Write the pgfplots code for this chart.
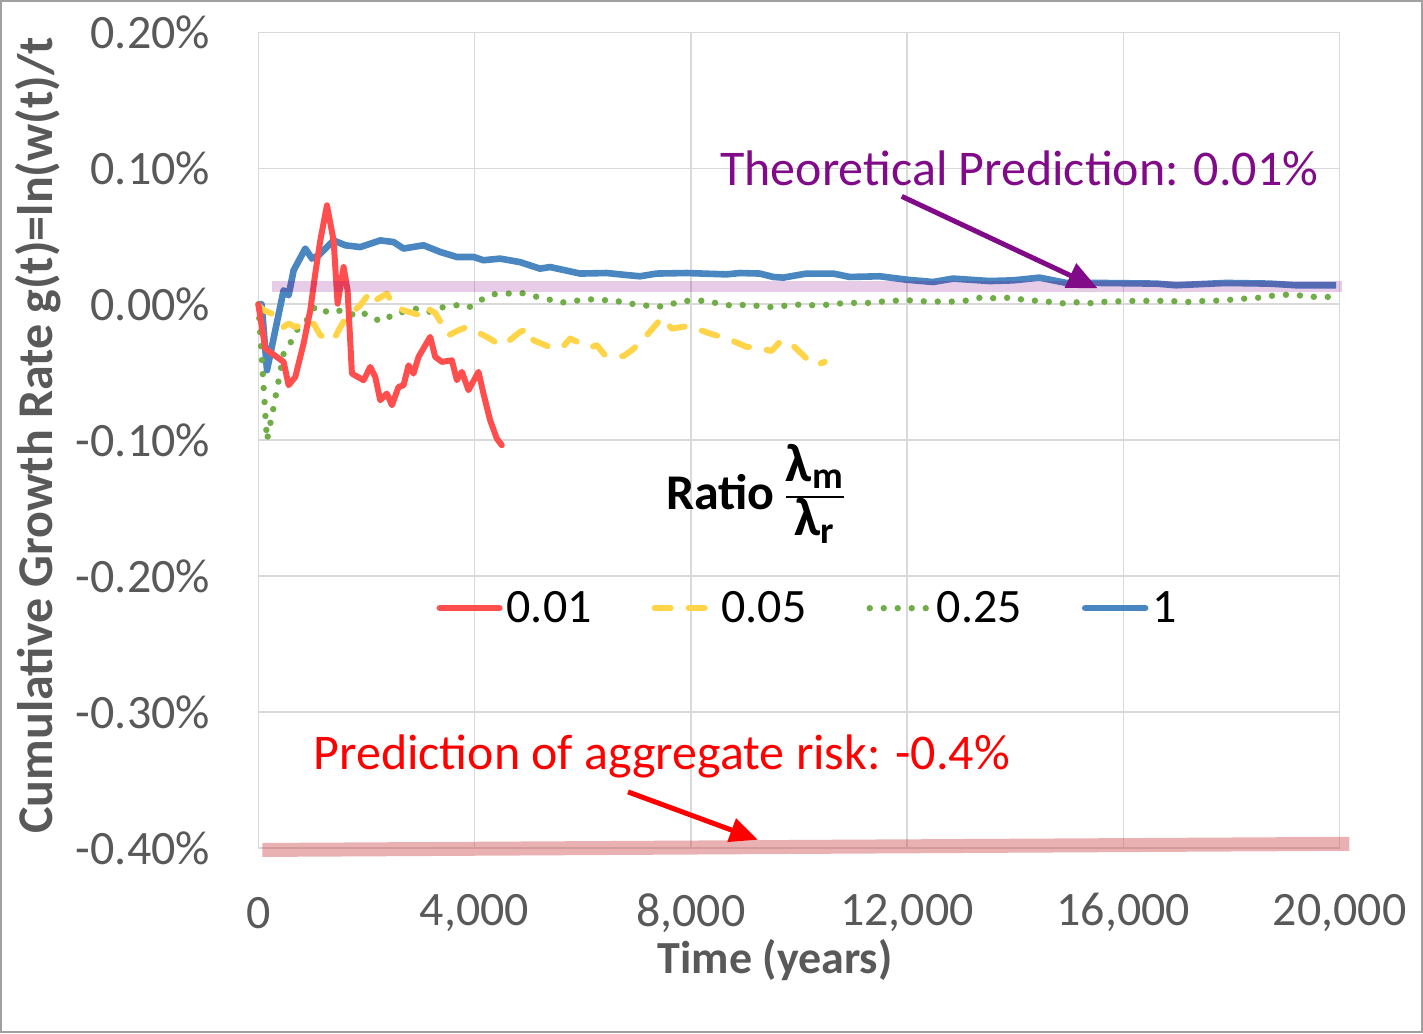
\documentclass[border=0pt]{standalone}
\usepackage{pgfplots}
\pgfplotsset{compat=1.18}
\usetikzlibrary{arrows.meta}
\usepackage{fontspec}
\setmainfont{Carlito}
\definecolor{tickc}{RGB}{89,89,89}
\definecolor{gridc}{RGB}{217,217,217}
\definecolor{framec}{RGB}{160,160,160}
\definecolor{sred}{RGB}{255,78,78}
\definecolor{syel}{RGB}{255,212,72}
\definecolor{sgrn}{RGB}{112,173,71}
\definecolor{sblu}{RGB}{74,134,192}
\definecolor{ppl}{RGB}{128,10,135}
\definecolor{band}{RGB}{128,0,128}
\definecolor{rband}{RGB}{200,60,60}
\begin{document}
\begin{tikzpicture}
\begin{axis}[
  scale only axis, width=541pt, height=408pt,
  xmin=0, xmax=20000, ymin=-0.4, ymax=0.2,
  scaled x ticks=false, scaled y ticks=false,
  xtick={0,4000,8000,12000,16000,20000},
  xticklabels={0,{4,000},{8,000},{12,000},{16,000},{20,000}},
  ytick={-0.4,-0.3,-0.2,-0.1,0,0.1,0.2},
  yticklabels={{-0.40\%},{-0.30\%},{-0.20\%},{-0.10\%},{0.00\%},{0.10\%},{0.20\%}},
  grid=major,
  major grid style={draw=gridc, line width=0.8pt},
  axis line style={draw=gridc, line width=0.8pt},
  major tick length=0pt,
  ticklabel style={font=\fontsize{24}{24}\selectfont, text=tickc, inner sep=0pt},
  xticklabel style={anchor=center, yshift=-32.5pt},
  yticklabel style={anchor=east, xshift=-24pt},
  xlabel={Time (years)},
  xlabel style={font=\bfseries\fontsize{23}{23}\selectfont, text=tickc, at={(axis description cs:0.478,-0.1373)}, anchor=center},
  ylabel={Cumulative Growth Rate g(t)=ln(w(t)/t},
  ylabel style={font=\bfseries\fontsize{25}{25}\selectfont, text=tickc, at={(axis description cs:-0.2033,0.506)}, anchor=center},
  clip=false,
  legend style={at={(0.509,0.294)}, anchor=center, draw=none, fill=none,
    font=\fontsize{24}{24}\selectfont, legend columns=4,
    /tikz/every even column/.append style={column sep=28pt}},
  legend cell align=left,
  legend image code/.code={\draw[#1] (0pt,0pt) -- (30pt,0pt);},
]
\addlegendimage{sred, line width=3pt, line cap=round}
\addlegendimage{syel, line width=3pt, line cap=round, dash pattern=on 8pt off 9pt}
\addlegendimage{sgrn, line width=3.2pt, line cap=round, dash pattern=on 0pt off 7pt}
\addlegendimage{sblu, line width=3.3pt, line cap=round}
\legend{0.01,0.05,0.25,1}

% 1
\addplot[forget plot, sblu, line width=3.3pt, line join=round] coordinates {
(0,0) (60,0) (160,-0.0485) (314,-0.019) (468,0.0103) (560,0.0066) (653,0.025) (869,0.041) (992,0.0336) (1115,0.036) (1392,0.047) (1608,0.0434) (1885,0.0421) (2255,0.047) (2501,0.0458) (2686,0.041) (3055,0.0434) (3363,0.0385) (3672,0.0348) (3980,0.0348) (4164,0.0324) (4472,0.0336) (4842,0.031) (5211,0.0262) (5396,0.0274) (5951,0.0226) (6444,0.023) (6813,0.0215) (7059,0.0206) (7368,0.0226) (7923,0.023) (8661,0.022) (8908,0.023) (9277,0.0226) (9523,0.0201) (9708,0.0196) (10139,0.0226) (10632,0.0226) (10940,0.0201) (11495,0.0206) (11988,0.0181) (12480,0.0164) (12850,0.0189) (13527,0.0171) (13958,0.0176) (14451,0.0196) (14944,0.0157) (15560,0.0157) (16608,0.0152) (16977,0.014) (17901,0.0157) (18703,0.0152) (19196,0.014) (19935,0.014)
};
% 0.25
\addplot[forget plot, sgrn, line width=3.2pt, line cap=round, dash pattern=on 0pt off 7pt] coordinates {
(0,0) (160,-0.1) (283,-0.0755) (376,-0.0559) (468,-0.0363) (622,-0.0265) (745,-0.0167) (930,-0.0105) (1053,-0.0015) (1269,-0.0056) (1454,-0.004) (1700,-0.0081) (1885,-0.0049) (2101,-0.0105) (2316,-0.0125) (2501,-0.0069) (2686,-0.0056) (2932,-0.0032) (3179,-0.0056) (3424,-0.002) (3672,-0.0007) (3887,-0.0025) (4103,0.0029) (4349,0.0074) (4596,0.0078) (4842,0.0086) (5088,0.006) (5335,0.004) (5581,0.0012) (5827,0.0022) (6074,0.0039) (6320,0.0029) (6566,0.0032) (6813,0.0005) (7059,0) (7305,-0.002) (7552,-0.0012) (7798,0.0022) (8045,0.0027) (8291,0.0025) (8568,0) (8815,-0.0012) (9061,0) (9338,-0.002) (9585,-0.002) (9831,-0.0005) (10077,-0.0002) (10354,-0.001) (10602,0) (10879,0.001) (11371,0.001) (11617,0.0025) (12110,0.0029) (12356,0.002) (12881,0.002) (13158,0.0029) (13404,0.0054) (13650,0.0042) (13897,0.0049) (14143,0.0034) (14420,0.0025) (14667,0.0017) (14926,0.0005) (15191,0.0017) (15437,0.0007) (15684,0.002) (15961,0.0022) (16207,0.0025) (16731,0.0025) (16977,0.0022) (17224,0.0017) (17501,0.0025) (17747,0.0027) (18006,0.0034) (18259,0.0042) (18518,0.0049) (18777,0.0064) (19041,0.0071) (19287,0.0064) (19546,0.0054) (19798,0.0054)
};
% 0.05
\addplot[forget plot, syel, line width=3pt, line cap=round, line join=round, dash pattern=on 8pt off 9pt] coordinates {
(0,-0.0007) (98,-0.0044) (253,-0.0069) (468,-0.0167) (560,-0.0142) (684,-0.0167) (807,-0.0154) (930,-0.0179) (1022,-0.0142) (1146,-0.0228) (1392,-0.0265) (1485,-0.0191) (1608,-0.0105) (1885,-0.0007) (2070,0.009) (2162,0.0029) (2378,0.0078) (2501,-0.0007) (2686,-0.0044) (2994,-0.0081) (3086,-0.002) (3271,-0.0064) (3518,-0.0228) (3703,-0.0191) (3857,-0.0167) (4226,-0.024) (4380,-0.0277) (4534,-0.0301) (4842,-0.0203) (4996,-0.0179) (5088,-0.0265) (5458,-0.0326) (5643,-0.0309) (5766,-0.0252) (6136,-0.0319) (6259,-0.0301) (6413,-0.0375) (6752,-0.0382) (6906,-0.0338) (7059,-0.0285) (7398,-0.013) (7490,-0.0098) (7645,-0.0179) (7923,-0.0162) (8107,-0.0179) (8322,-0.0211) (8723,-0.026) (9031,-0.0314) (9123,-0.0314) (9493,-0.0343) (9646,-0.0277) (9800,-0.027) (10139,-0.0399) (10293,-0.0449) (10478,-0.0424)
};
% 0.01
\addplot[forget plot, sred, line width=3pt, line join=round, line cap=round] coordinates {
(0,0) (129,-0.0326) (468,-0.0424) (560,-0.0596) (684,-0.0534) (837,-0.0289) (961,-0.0044) (1053,0.0226) (1146,0.047) (1269,0.0728) (1392,0.047) (1466,0.0005) (1577,0.0274) (1651,0.0103) (1731,-0.051) (1947,-0.0559) (2070,-0.0461) (2162,-0.0534) (2255,-0.0706) (2378,-0.0657) (2471,-0.0743) (2593,-0.0608) (2686,-0.0596) (2778,-0.0449) (2870,-0.051) (2963,-0.0387) (3179,-0.024) (3271,-0.0387) (3395,-0.0424) (3580,-0.0412) (3672,-0.0559) (3765,-0.0497) (3887,-0.0632) (4072,-0.0497) (4164,-0.0657) (4287,-0.0853) (4411,-0.0988) (4503,-0.1037)
};
% prediction bands
\addplot[forget plot, draw=band, draw opacity=0.2, line width=5.5pt] coordinates {(260,0.0129) (20050,0.0129)};
\addplot[forget plot, draw=rband, draw opacity=0.4, line width=7pt] coordinates {(74,-0.4015) (20180,-0.397)};

% annotations
\draw[ppl, line width=2.5pt, -{Triangle[length=15pt,width=13pt]}] (axis cs:11901,0.0794) -- (axis cs:15523,0.0118);
\draw[red, line width=2.5pt, -{Triangle[length=14pt,width=12pt]}] (axis cs:6838,-0.3588) -- (axis cs:9240,-0.394);
\node[anchor=west, text=ppl, font=\fontsize{25}{25}\selectfont, inner sep=0pt] at (axis cs:8538,0.1) {Theoretical Prediction: 0.01\%};
\node[anchor=west, text=red, font=\fontsize{25}{25}\selectfont, inner sep=0pt] at (axis cs:1016,-0.333) {Prediction of aggregate risk: -0.4\%};
\node[font=\bfseries\fontsize{25}{25}\selectfont, inner sep=0pt] at (axis cs:9185,-0.1419) {Ratio \setlength\arrayrulewidth{1.3pt}\renewcommand\arraystretch{0.9}\fontsize{27}{27}\selectfont\begin{tabular}{@{}c@{}}λ\textsubscript{m}\\\hline λ\textsubscript{r}\end{tabular}};

% outer frame
\draw[framec, line width=1pt] (rel axis cs:-0.2380,-0.2261) rectangle (rel axis cs:1.0762,1.0386);
\end{axis}
\end{tikzpicture}
\end{document}
